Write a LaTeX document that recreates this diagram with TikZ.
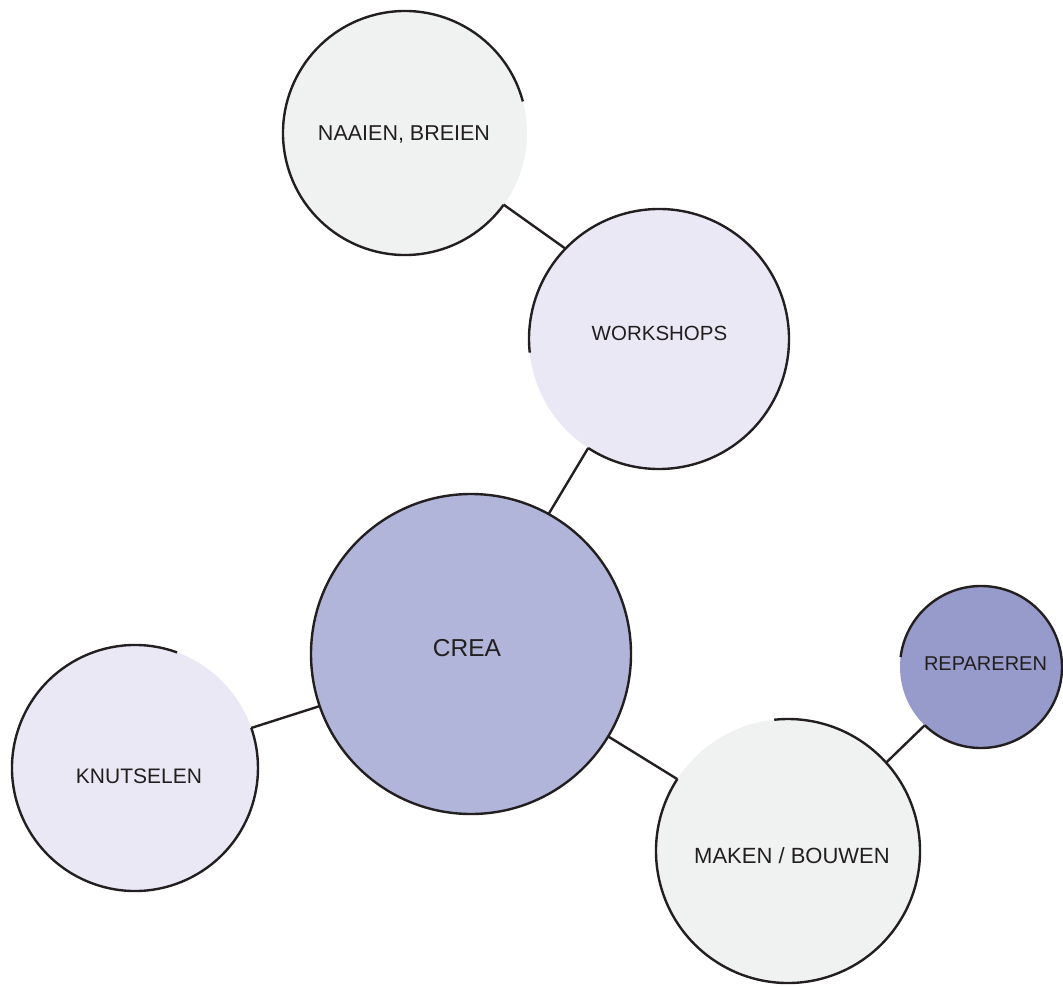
\documentclass[tikz,border=0pt]{standalone}
\usepackage{fontspec}
\setmainfont{Liberation Sans}
\definecolor{ink}{HTML}{231F20}
\definecolor{greyfill}{HTML}{EFF2F1}
\definecolor{lavfill}{HTML}{EAE8F4}
\definecolor{creafill}{HTML}{B0B5D9}
\definecolor{repfill}{HTML}{979BCB}
\begin{document}
\begin{tikzpicture}[x=1pt,y=1pt,
  bubble/.style={circle, inner sep=0pt, outer sep=0pt, draw=none},
  ring/.style={draw=ink, line width=2.4pt},
  link/.style={draw=ink, line width=2.4pt},
  lbl/.style={text=ink, inner sep=0pt, anchor=base}]
\useasboundingbox (0,0) rectangle (1063,-987);
% circles
\node[bubble, fill=greyfill, minimum size=244pt] (naai) at (405,-133) {};
\node[bubble, fill=lavfill, minimum size=260pt] (work) at (659,-339) {};
\node[bubble, fill=creafill, minimum size=320pt] (crea) at (471,-654) {};
\node[bubble, fill=lavfill, minimum size=246pt] (knut) at (135,-768) {};
\node[bubble, fill=greyfill, minimum size=264pt] (make) at (788,-851) {};
\node[bubble, fill=repfill, minimum size=162pt] (rep) at (981,-667) {};
% outlines
\draw[ring] (naai.15) arc[start angle=15, end angle=324, radius=122];
\draw[ring] (work.237) arc[start angle=237, end angle=546, radius=130];
\draw[ring] (crea.center) circle[radius=160];
\draw[ring] (knut.70) arc[start angle=70, end angle=379, radius=123];
\draw[ring] (make.147) arc[start angle=147, end angle=456, radius=132];
\draw[ring] (rep.226) arc[start angle=226, end angle=533, radius=81];
% connectors
\draw[link] (naai.324) -- (work.136);
\draw[link] (crea.61) -- (work.237);
\draw[link] (crea.199) -- (knut.19);
\draw[link] (crea.329) -- (make.147);
\draw[link] (make.42) -- (rep.226);
% labels
\node[lbl, font=\fontsize{21.5}{26}\selectfont] (tnaai) at (404,-140.7) {NAAIEN, BREIEN};
\node[lbl, font=\fontsize{20.5}{25}\selectfont] (twork) at (659.5,-340.3) {WORKSHOPS};
\node[lbl, font=\fontsize{24.5}{29}\selectfont] (tcrea) at (467,-656.8) {CREA};
\node[lbl, font=\fontsize{21}{25}\selectfont] (tknut) at (139,-783.5) {KNUTSELEN};
\node[lbl, font=\fontsize{22}{26}\selectfont] (tmake) at (792,-863) {MAKEN / BOUWEN};
\node[lbl, font=\fontsize{20}{24}\selectfont] (trep) at (985.5,-670) {REPAREREN};
\end{tikzpicture}
\end{document}
